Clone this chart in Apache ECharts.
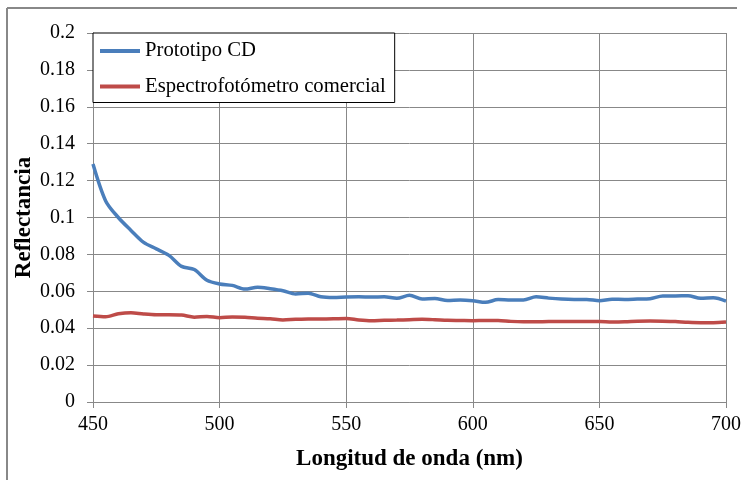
<!DOCTYPE html>
<html><head><meta charset="utf-8">
<script src="https://cdn.jsdelivr.net/npm/echarts@6/dist/echarts.min.js"></script>
<style>html,body{margin:0;padding:0;background:#fff}#c{width:746px;height:480px}</style>
</head><body><div id="c"></div>
<script>
const wavelengths = [450,455,460,465,470,475,480,485,490,495,500,505,510,515,520,525,530,535,540,545,550,555,560,565,570,575,580,585,590,595,600,605,610,615,620,625,630,635,640,645,650,655,660,665,670,675,680,685,690,695,700];
const prototipoCD = [0.129,0.109,0.100,0.093,0.0865,0.083,0.0795,0.0735,0.0718,0.066,0.0640,0.0632,0.0612,0.0622,0.0614,0.0603,0.0585,0.0590,0.0570,0.0566,0.0569,0.0570,0.0569,0.0570,0.0562,0.0578,0.0558,0.0561,0.0550,0.0553,0.0549,0.0540,0.0555,0.0553,0.0553,0.0570,0.0563,0.0558,0.0556,0.0556,0.0549,0.0557,0.0556,0.0558,0.0560,0.0575,0.0575,0.0576,0.0562,0.0565,0.0547];
const espectrofotometro = [0.0466,0.0462,0.0478,0.0484,0.0477,0.0473,0.0473,0.0471,0.0460,0.0464,0.0457,0.0461,0.0459,0.0454,0.0451,0.0445,0.0448,0.0450,0.0450,0.0451,0.0453,0.0445,0.0441,0.0443,0.0444,0.0446,0.0448,0.0446,0.0443,0.0442,0.0441,0.0442,0.0442,0.0437,0.0435,0.0435,0.0436,0.0436,0.0436,0.0436,0.0436,0.0434,0.0435,0.0438,0.0439,0.0438,0.0436,0.0432,0.0430,0.0430,0.0433];
const seriesNames = ['Prototipo CD','Espectrofotómetro comercial'];
const xTicks = [450,500,550,600,650,700];
const yTicks = [0,0.02,0.04,0.06,0.08,0.1,0.12,0.14,0.16,0.18,0.2];

const font = 'Liberation Serif';
const chart = echarts.init(document.getElementById('c'), null, {renderer:'canvas'});
const pair = arr => wavelengths.map((w,i)=>[w,arr[i]]);
chart.setOption({
  animation:false,
  backgroundColor:'#fff',
  graphic:[
    {type:'line', shape:{x1:7,y1:8,x2:737,y2:8}, style:{stroke:'#888',lineWidth:2}},
    {type:'line', shape:{x1:7,y1:8,x2:7,y2:480}, style:{stroke:'#888',lineWidth:2}}
  ],
  grid:{left:93, top:33, right:20, bottom:78, containLabel:false, outerBoundsMode:'none'},
  legend:{
    orient:'vertical', left:93, top:33,
    backgroundColor:'#fff', borderColor:'#000', borderWidth:1,
    padding:[7,9,5,7], itemGap:13.5, itemWidth:40, itemHeight:4, icon:'rect',
    textStyle:{fontFamily:font, fontSize:20.7, color:'#000', lineHeight:22},
    data:seriesNames
  },
  xAxis:{
    type:'value', min:450, max:700, interval:50,
    name:'Longitud de onda (nm)', nameLocation:'middle', nameGap:46, nameMoveOverlap:false,
    nameTextStyle:{fontFamily:font, fontSize:23, fontWeight:'bold', color:'#000'},
    axisLine:{show:true, lineStyle:{color:'#888', width:1}},
    axisTick:{show:true, length:6, lineStyle:{color:'#888'}},
    axisLabel:{fontFamily:font, fontSize:20, color:'#000', margin:13,
      formatter:v=>xTicks.includes(v)?String(v):''},
    splitLine:{show:true, lineStyle:{color:'#888', width:1}}
  },
  yAxis:{
    type:'value', min:0, max:0.2, interval:0.02,
    name:'Reflectancia', nameLocation:'middle', nameGap:57, nameRotate:90, nameMoveOverlap:false,
    nameTextStyle:{fontFamily:font, fontSize:23, fontWeight:'bold', color:'#000'},
    axisLine:{show:true, lineStyle:{color:'#888', width:1}},
    axisTick:{show:true, length:6, lineStyle:{color:'#888'}},
    axisLabel:{fontFamily:font, fontSize:20, color:'#000', margin:18,
      formatter:v=>{const t=yTicks.find(k=>Math.abs(k-v)<1e-9);return t===undefined?'':String(t);}},
    splitLine:{show:true, lineStyle:{color:'#888', width:1}}
  },
  series:[
    {name:seriesNames[0], type:'line', data:pair(prototipoCD), smooth:0.3, showSymbol:false,
      lineStyle:{color:'#4A7EBB', width:3.5}, itemStyle:{color:'#4A7EBB'}},
    {name:seriesNames[1], type:'line', data:pair(espectrofotometro), smooth:0.3, showSymbol:false,
      lineStyle:{color:'#BE4B48', width:3.5}, itemStyle:{color:'#BE4B48'}}
  ]
});
</script></body></html>
